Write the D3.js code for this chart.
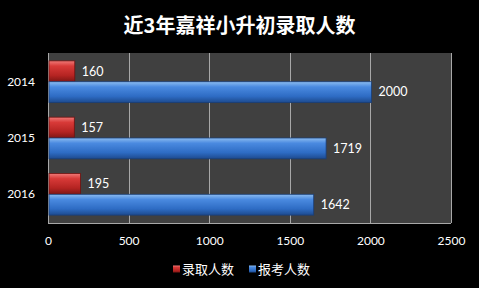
<!DOCTYPE html>
<html>
<head>
<meta charset="utf-8">
<script src="https://cdn.jsdelivr.net/npm/d3@7"></script>
<style>
  html, body { margin: 0; padding: 0; background: #000; }
  svg { display: block; font-family: "Noto Sans CJK SC", "DejaVu Sans", sans-serif; }
</style>
</head>
<body>
<div></div>
<script>
const years = ["2014", "2015", "2016"];
const admitted = [160, 157, 195];
const applicants = [2000, 1719, 1642];
const seriesNames = ["录取人数", "报考人数"];
const xTicks = [0, 500, 1000, 1500, 2000, 2500];

const W = 479, H = 288;
const plot = { left: 48, right: 451, top: 53, bottom: 223 };
const numFont = 'Lato, "DejaVu Sans", sans-serif';

const svg = d3.select('div')
    .append('svg')
    .attr('width', W)
    .attr('height', H);

svg.append('rect').attr('width', W).attr('height', H).attr('fill', '#000');

const defs = svg.append('defs');

// shaded fills to mimic the bevelled bars
const grads = [
    { id: 'gRed', stops: ['#f07a78', '#d83a38', '#b52422', '#7e1614'] },
    { id: 'gBlue', stops: ['#8cbcf0', '#4a8ae0', '#2e6cc4', '#1d4a8e'] }
];
grads.forEach(g => {
    const lg = defs.append('linearGradient')
        .attr('id', g.id)
        .attr('x1', 0).attr('y1', 0).attr('x2', 0).attr('y2', 1);
    [0, 0.25, 0.7, 1].forEach((o, i) => {
        lg.append('stop').attr('offset', o).attr('stop-color', g.stops[i]);
    });
});

const x = d3.scaleLinear().domain([0, 2500]).range([plot.left, plot.right]);
const y = d3.scaleBand().domain(years).range([plot.top, plot.bottom]).paddingInner(0.26).paddingOuter(0.14);
const sub = d3.scaleBand().domain([0, 1]).range([0, y.bandwidth()]);

// plot background
svg.append('rect')
    .attr('x', plot.left)
    .attr('y', plot.top)
    .attr('width', plot.right - plot.left)
    .attr('height', plot.bottom - plot.top)
    .attr('fill', '#404040');

// gridlines
svg.append('g')
    .selectAll('line')
    .data(xTicks)
    .join('line')
    .attr('x1', d => Math.round(x(d)) + 0.5)
    .attr('x2', d => Math.round(x(d)) + 0.5)
    .attr('y1', plot.top)
    .attr('y2', plot.bottom)
    .attr('stroke', '#a8a8a8')
    .attr('stroke-width', 1);

// bottom axis line
svg.append('line')
    .attr('x1', plot.left).attr('x2', plot.right)
    .attr('y1', plot.bottom + 0.5).attr('y2', plot.bottom + 0.5)
    .attr('stroke', '#a8a8a8');

// x axis
const xAxis = svg.append('g')
    .attr('transform', `translate(0,${plot.bottom})`)
    .call(d3.axisBottom(x).tickValues(xTicks).tickSize(0).tickPadding(13).tickFormat(d3.format('d')));
xAxis.select('.domain').remove();
xAxis.selectAll('text').attr('fill', '#fff').style('font-size', '12px').style('font-family', numFont);

// y axis
const yAxis = svg.append('g')
    .attr('transform', `translate(${plot.left},0)`)
    .call(d3.axisLeft(y).tickSize(0).tickPadding(13));
yAxis.select('.domain').remove();
yAxis.selectAll('text').attr('fill', '#fff').style('font-size', '12px').style('font-family', numFont);

const rows = years.map((yr, i) => ({ year: yr, vals: [admitted[i], applicants[i]] }));

const bars = svg.append('g')
    .selectAll('g')
    .data(rows)
    .join('g')
    .attr('transform', d => `translate(0,${y(d.year)})`);

bars.selectAll('rect')
    .data(d => d.vals.map((v, k) => ({ v, k })))
    .join('rect')
    .attr('x', x(0) + 1)
    .attr('y', d => sub(d.k))
    .attr('width', d => x(d.v) - x(0))
    .attr('height', sub.bandwidth())
    .attr('fill', d => d.k === 0 ? 'url(#gRed)' : 'url(#gBlue)')
    .attr('stroke', d => d.k === 0 ? '#6e1210' : '#1a3f78')
    .attr('stroke-width', 0.8);

bars.selectAll('text')
    .data(d => d.vals.map((v, k) => ({ v, k })))
    .join('text')
    .attr('x', d => x(d.v) + 8)
    .attr('y', d => sub(d.k) + sub.bandwidth() / 2)
    .attr('dy', '0.35em')
    .attr('fill', '#fff')
    .style('font-size', '12.5px')
    .style('font-family', numFont)
    .text(d => d.v);

// title
svg.append('text')
    .attr('x', W / 2)
    .attr('y', 33)
    .attr('text-anchor', 'middle')
    .attr('fill', '#fff')
    .style('font-size', '20px')
    .style('font-weight', 'bold')
    .text('近3年嘉祥小升初录取人数');

// legend
const legend = svg.append('g').attr('transform', 'translate(173,269)');
const lx = [0, 76];
const legItems = legend.selectAll('g')
    .data(seriesNames)
    .join('g')
    .attr('transform', (d, i) => `translate(${lx[i]},0)`);
legItems.append('rect')
    .attr('x', 0).attr('y', -3.5)
    .attr('width', 7).attr('height', 7)
    .attr('fill', (d, i) => i === 0 ? 'url(#gRed)' : 'url(#gBlue)');
legItems.append('text')
    .attr('x', 9)
    .attr('dy', '0.36em')
    .attr('fill', '#fff')
    .style('font-size', '13px')
    .text(d => d);
</script>
</body>
</html>
